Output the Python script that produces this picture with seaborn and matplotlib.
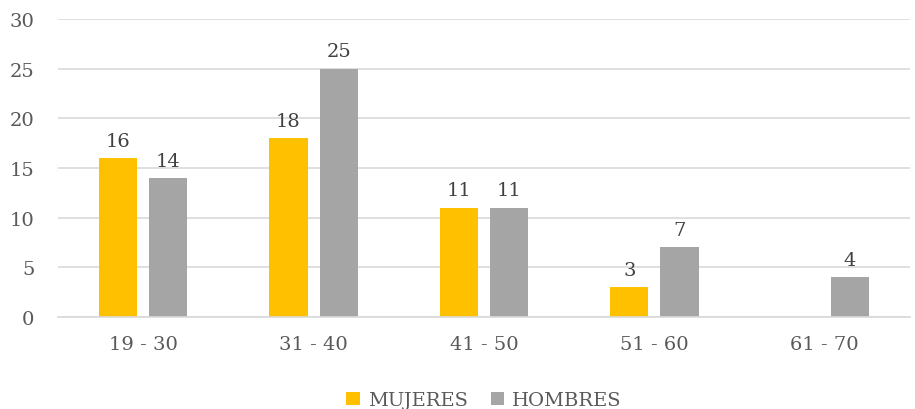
import numpy as np
import pandas as pd
import matplotlib
matplotlib.use('Agg')
import matplotlib.pyplot as plt
import seaborn as sns

grupos = ['19 - 30', '31 - 40', '41 - 50', '51 - 60', '61 - 70']
mujeres = [16, 18, 11, 3, 0]
hombres = [14, 25, 11, 7, 4]

df = pd.DataFrame({
    'edad': grupos * 2,
    'valor': mujeres + hombres,
    'sexo': ['MUJERES'] * len(grupos) + ['HOMBRES'] * len(grupos),
})

sns.set_style('white')
plt.rcParams['font.family'] = ['DejaVu Serif']

fig = plt.figure(figsize=(9.15, 4.1), dpi=100)
ax = fig.add_axes([58 / 915, 1 - 318 / 410, 852 / 915, 298 / 410])

sns.barplot(data=df, x='edad', y='valor', hue='sexo',
            palette={'MUJERES': '#FFC000', 'HOMBRES': '#A5A5A5'},
            saturation=1, linewidth=0, width=0.59, gap=0.24,
            ax=ax, legend=True)

for cont in ax.containers:
    labs = ['' if v == 0 else f'{v:.0f}' for v in cont.datavalues]
    ax.bar_label(cont, labels=labs, padding=6, fontsize=14, color='#404040')

ax.set_ylim(0, 30)
ax.set_xlim(-0.5, 4.5)
ax.set_yticks(range(0, 31, 5))
ax.yaxis.grid(True, color='#D9D9D9', linewidth=1.2)
ax.set_axisbelow(True)
for s in ['top', 'right', 'left']:
    ax.spines[s].set_visible(False)
ax.spines['bottom'].set_color('#D9D9D9')
ax.spines['bottom'].set_linewidth(1.2)
ax.tick_params(axis='y', length=0, labelsize=14, colors='#595959', pad=17)
ax.tick_params(axis='x', length=0, labelsize=14, colors='#595959', pad=13)
ax.set_xlabel('')
ax.set_ylabel('')

ax.legend(loc='upper center', bbox_to_anchor=(0.5, -0.19), ncol=2, frameon=False,
          fontsize=14, labelcolor='#595959', handlelength=0.7, handleheight=0.7,
          columnspacing=1.2, handletextpad=0.4)

fig.savefig('out.png', dpi=100)
